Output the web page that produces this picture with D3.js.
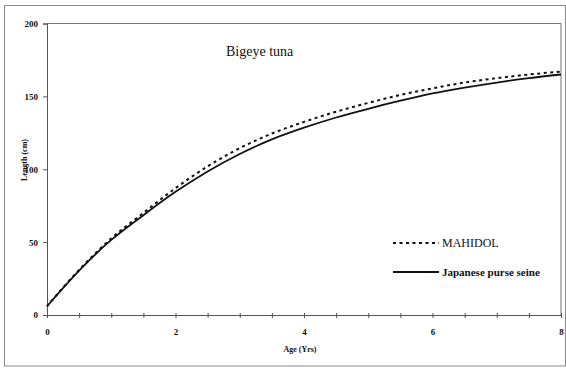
<!DOCTYPE html>
<html>
<head>
<meta charset="utf-8">
<script src="https://cdn.jsdelivr.net/npm/d3@7"></script>
<style>
  html, body { margin: 0; padding: 0; background: #fff; }
  svg { display: block; }
</style>
</head>
<body>
<svg id="chart" width="566" height="369"></svg>
<script>
// Age in years
const ages = [0, 0.5, 1, 1.5, 2, 2.5, 3, 3.5, 4, 4.5, 5, 5.5, 6, 6.5, 7, 7.5, 8];
// Length at age (cm)
const mahidol = [6, 31, 52.5, 70, 87, 102, 114.5, 124.5, 132.5, 139.5, 145.5, 151, 155.5, 159.5, 162.5, 165, 167];
const japanesePurseSeine = [6, 30.5, 51.5, 68.5, 84.5, 98.5, 110.5, 120.5, 128.5, 135.5, 141.5, 147, 152, 156, 159.5, 162.5, 165];
const yTicks = [0, 50, 100, 150, 200];
const xMinorTicks = [0, 0.5, 1, 1.5, 2, 2.5, 3, 3.5, 4, 4.5, 5, 5.5, 6, 6.5, 7, 7.5, 8];
const xLabelTicks = [0, 2, 4, 6, 8];

const SERIF = "'Liberation Serif', 'Times New Roman', serif";

const svg = d3.select("#chart").style("font-family", SERIF);

const x = d3.scaleLinear().domain([0, 8]).range([47, 561]);
const y = d3.scaleLinear().domain([0, 200]).range([315, 23.5]);

// outer frame
svg.append("rect")
  .attr("x", 4.5).attr("y", 5.5).attr("width", 561).attr("height", 360.5)
  .attr("fill", "none").attr("stroke", "#8a8a8a").attr("stroke-width", 1);

// plot frame (top and right)
svg.append("line").attr("x1", x(0)).attr("x2", x(8)).attr("y1", y(200)).attr("y2", y(200))
  .attr("stroke", "#777").attr("stroke-width", 1);
svg.append("line").attr("x1", x(8)).attr("x2", x(8)).attr("y1", y(200)).attr("y2", y(0))
  .attr("stroke", "#777").attr("stroke-width", 1);

// y axis
const yAxis = svg.append("g")
  .attr("transform", `translate(${x(0)},0)`)
  .call(d3.axisLeft(y).tickValues(yTicks).tickSize(4).tickPadding(5).tickFormat(d3.format("d")));
yAxis.attr("font-family", SERIF);
yAxis.select(".domain").attr("stroke", "#555");
yAxis.selectAll(".tick line").attr("stroke", "#555");
yAxis.selectAll("text").attr("font-size", 9).attr("font-weight", "bold").attr("fill", "#111");

// x axis: minor ticks every half year
const xAxis = svg.append("g")
  .attr("transform", `translate(0,${y(0)})`)
  .call(d3.axisBottom(x).tickValues(xMinorTicks).tickSize(3).tickFormat(""));
xAxis.select(".domain").attr("stroke", "#555");
xAxis.selectAll(".tick line").attr("stroke", "#555").attr("y1", -2);

// x labels every two years
const xLabels = svg.append("g")
  .attr("transform", `translate(0,${y(0)})`)
  .call(d3.axisBottom(x).tickValues(xLabelTicks).tickSize(0).tickPadding(14).tickFormat(d3.format("d")));
xLabels.attr("font-family", SERIF);
xLabels.select(".domain").remove();
xLabels.selectAll("text").attr("font-size", 9).attr("font-weight", "bold").attr("fill", "#111");

// axis titles
svg.append("text").attr("x", 300).attr("y", 352).attr("text-anchor", "middle")
  .attr("font-family", SERIF).attr("fill", "#111")
  .attr("font-size", 8).attr("font-weight", "bold").text("Age (Yrs)");
svg.append("text").attr("transform", "translate(27,160) rotate(-90)").attr("text-anchor", "middle")
  .attr("font-family", SERIF).attr("fill", "#111")
  .attr("font-size", 8).attr("font-weight", "bold").text("Length (cm)");

// chart title
svg.append("text").attr("x", 226).attr("y", 56)
  .attr("font-family", SERIF).attr("fill", "#111")
  .attr("font-size", 14).text("Bigeye tuna");

// growth curves
const line = d3.line()
  .x((d, i) => x(ages[i]))
  .y(d => y(d))
  .curve(d3.curveCatmullRom);

svg.append("path").datum(japanesePurseSeine)
  .attr("d", line).attr("fill", "none").attr("stroke", "#111").attr("stroke-width", 1.8);
svg.append("path").datum(mahidol)
  .attr("d", line).attr("fill", "none").attr("stroke", "#111").attr("stroke-width", 2)
  .attr("stroke-dasharray", "3,3.5");

// legend
const legend = [
  { name: "MAHIDOL", dash: "3,3.5", y: 243, weight: "normal", size: 12 },
  { name: "Japanese purse seine", dash: null, y: 272, weight: "bold", size: 11 }
];
legend.forEach(l => {
  svg.append("line").attr("x1", 393).attr("x2", 439).attr("y1", l.y).attr("y2", l.y)
    .attr("stroke", "#111").attr("stroke-width", 2)
    .attr("stroke-dasharray", l.dash);
  svg.append("text").attr("x", 442).attr("y", l.y + 4)
    .attr("font-family", SERIF).attr("fill", "#111")
    .attr("font-size", l.size).attr("font-weight", l.weight).text(l.name);
});
</script>
</body>
</html>
